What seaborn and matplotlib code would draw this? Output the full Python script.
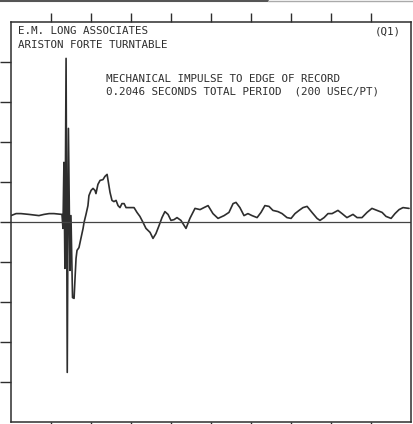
import numpy as np
import pandas as pd
import matplotlib
matplotlib.use('Agg')
import matplotlib.pyplot as plt
import seaborn as sns

# 측정 데이터 (시간 ms, 진폭 division)
time_ms = [0.0, 2.6, 5.1, 9.2, 14.3, 16.9, 19.5, 22.0, 26.1, 26.6, 27.1, 27.6,
           28.2, 28.8, 29.4, 30.2, 30.7, 31.5, 32.3, 32.8, 33.3, 33.8, 34.8,
           35.8, 36.9, 37.4, 38.4, 39.4, 39.9, 41.0, 42.0, 43.0, 43.5, 44.5,
           45.6, 47.1, 48.1, 49.2, 49.7, 50.7, 51.7, 52.7, 53.8, 54.8, 55.8,
           56.8, 57.9, 58.9, 60.9, 63.0, 64.5, 66.0, 67.6, 69.1, 71.2, 72.7,
           74.2, 75.8, 77.3, 78.8, 80.4, 81.9, 83.5, 85.0, 87.0, 89.6, 91.6,
           94.2, 96.8, 98.8, 100.9, 103.4, 106.0, 109.1, 111.6, 113.7, 115.2,
           117.2, 119.3, 121.3, 123.4, 126.0, 128.0, 130.0, 132.1, 134.1,
           136.7, 138.8, 141.3, 143.4, 145.4, 147.5, 149.5, 151.6, 154.1,
           156.7, 158.2, 160.3, 162.3, 164.4, 167.4, 169.5, 172.0, 175.1,
           177.2, 179.7, 182.3, 184.8, 187.4, 190.0, 192.0, 194.6, 196.6,
           198.7, 200.7, 203.8]
amplitude = [0.16, 0.21, 0.21, 0.19, 0.16, 0.19, 0.21, 0.21, 0.19, -0.16, 1.49, -1.16,
             4.09, -3.76, 2.34, -1.21, 0.16, -1.89, -1.91, -1.39, -0.91, -0.71, -0.64,
             -0.41, -0.16, -0.01, 0.19, 0.41, 0.66, 0.79, 0.84, 0.79, 0.71, 0.94,
             1.04, 1.06, 1.14, 1.19, 1.04, 0.74, 0.54, 0.51, 0.54, 0.41, 0.36,
             0.46, 0.46, 0.36, 0.36, 0.36, 0.24, 0.14, -0.01, -0.16, -0.26, -0.41,
             -0.29, -0.09, 0.11, 0.26, 0.19, 0.04, 0.06, 0.11, 0.04, -0.16, 0.09,
             0.34, 0.31, 0.36, 0.41, 0.21, 0.09, 0.16, 0.24, 0.46, 0.49,
             0.36, 0.16, 0.21, 0.16, 0.11, 0.24, 0.41, 0.39, 0.29,
             0.26, 0.21, 0.11, 0.09, 0.21, 0.29, 0.36, 0.39, 0.24,
             0.09, 0.04, 0.11, 0.21, 0.21, 0.29, 0.21, 0.11, 0.19,
             0.11, 0.11, 0.24, 0.34, 0.29, 0.24, 0.14, 0.09, 0.21,
             0.31, 0.36, 0.34]

df = pd.DataFrame({'t': time_ms, 'amp': amplitude})

# 축 설정값
div_ms = 20.48
x_max = 10 * div_ms
y_ticks = [-4, -3, -2, -1, 0, 1, 2, 3, 4]
x_ticks = [div_ms * k for k in range(1, 10)]

sns.set_style('white')
plt.rcParams['font.family'] = ['DejaVu Sans Mono', 'DejaVu Sans']

fig = plt.figure(figsize=(4.13, 4.24), dpi=100)
ax = fig.add_axes([11 / 413, 2 / 424, 400 / 413, 400 / 424])

ink = '#2e2e2e'
sns.lineplot(data=df, x='t', y='amp', ax=ax, color=ink, linewidth=1.2,
             estimator=None, sort=False)
ax.axhline(0, color='#444444', linewidth=0.9)

ax.set_xlim(0, x_max)
ax.set_ylim(-5, 5)
ax.set_xticks(x_ticks)
ax.set_yticks(y_ticks)
ax.set_xticklabels([])
ax.set_yticklabels([])
ax.set_xlabel('')
ax.set_ylabel('')
ax.tick_params(axis='x', top=True, bottom=True, direction='out', length=6.5,
               width=1.0, color=ink)
ax.tick_params(axis='y', left=True, direction='out', length=8, width=1.0, color=ink)
for s in ax.spines.values():
    s.set_color(ink)
    s.set_linewidth(1.1)

# 텍스트
fs = 7.8
def px(x, y):
    return x / 413, 1 - y / 424

fig.text(*px(18, 31.5), 'E.M. LONG ASSOCIATES', fontsize=fs, va='center', color=ink)
fig.text(*px(18, 45.5), 'ARISTON FORTE TURNTABLE', fontsize=fs, va='center', color=ink)
fig.text(*px(401, 31.5), '(Q1)', fontsize=fs, va='center', ha='right', color=ink)
fig.text(*px(106, 79), 'MECHANICAL IMPULSE TO EDGE OF RECORD', fontsize=fs,
         va='center', color=ink)
fig.text(*px(106, 92), '0.2046 SECONDS TOTAL PERIOD  (200 USEC/PT)', fontsize=fs,
         va='center', color=ink)

# 스캔 상단 테두리
fig.add_artist(plt.Line2D([0, 0.65], [0.997, 0.997], transform=fig.transFigure,
                          color='#555555', linewidth=1.5))
fig.add_artist(plt.Line2D([0.65, 1], [0.997, 0.997], transform=fig.transFigure,
                          color='#aaaaaa', linewidth=1.0))

fig.savefig('out.png', dpi=100, facecolor='white')
